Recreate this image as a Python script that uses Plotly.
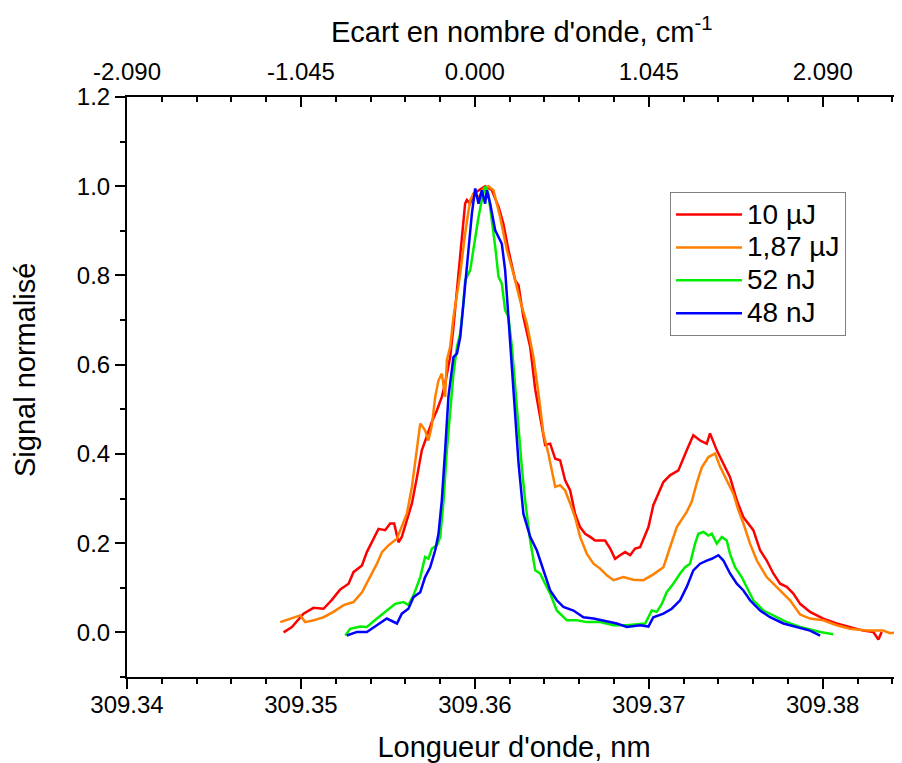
import plotly.graph_objects as go

# ---- data (wavelength in nm, normalised signal) ----
red_x = [309.34900, 309.34948, 309.35015, 309.35072, 309.35130, 309.35178, 309.35226, 309.35274, 309.35302, 309.35351,
         309.35379, 309.35417, 309.35446, 309.35484, 309.35513, 309.35536, 309.35552, 309.35561, 309.35580, 309.35609,
         309.35638, 309.35667, 309.35695, 309.35724, 309.35753, 309.35782, 309.35810, 309.35829, 309.35858, 309.35877,
         309.35906, 309.35925, 309.35944, 309.35954, 309.35973, 309.35992, 309.36021, 309.36059, 309.36098, 309.36136,
         309.36164, 309.36193, 309.36232, 309.36251, 309.36279, 309.36318, 309.36347, 309.36375, 309.36404, 309.36433,
         309.36462, 309.36490, 309.36519, 309.36548, 309.36576, 309.36605, 309.36634, 309.36663, 309.36691, 309.36720,
         309.36749, 309.36778, 309.36806, 309.36835, 309.36864, 309.36893, 309.36921, 309.36950, 309.36969, 309.36998,
         309.37026, 309.37055, 309.37084, 309.37122, 309.37170, 309.37218, 309.37256, 309.37295, 309.37333, 309.37352,
         309.37391, 309.37429, 309.37467, 309.37506, 309.37544, 309.37601, 309.37640, 309.37678, 309.37716, 309.37755,
         309.37793, 309.37831, 309.37870, 309.37927, 309.38003, 309.38080, 309.38157, 309.38233, 309.38291, 309.38320,
         309.38339]
red_y = [0.000, 0.012, 0.042, 0.055, 0.053, 0.073, 0.096, 0.109, 0.135, 0.150,
         0.180, 0.210, 0.232, 0.229, 0.244, 0.244, 0.221, 0.202, 0.214, 0.251,
         0.289, 0.348, 0.408, 0.440, 0.472, 0.498, 0.528, 0.558, 0.617, 0.685,
         0.812, 0.879, 0.961, 0.969, 0.961, 0.983, 0.991, 1.000, 0.991, 0.954,
         0.916, 0.857, 0.789, 0.778, 0.707, 0.640, 0.545, 0.480, 0.420, 0.423,
         0.389, 0.386, 0.341, 0.318, 0.266, 0.236, 0.221, 0.214, 0.206, 0.206,
         0.206, 0.188, 0.165, 0.173, 0.180, 0.173, 0.188, 0.191, 0.210, 0.236,
         0.285, 0.311, 0.337, 0.352, 0.363, 0.408, 0.442, 0.430, 0.423, 0.446,
         0.408, 0.378, 0.348, 0.296, 0.258, 0.229, 0.184, 0.161, 0.132, 0.109,
         0.102, 0.087, 0.064, 0.046, 0.031, 0.020, 0.012, 0.004, 0.001, -0.016,
         0.001]

orange_x = [309.34881, 309.34939, 309.34996, 309.35025, 309.35072, 309.35130, 309.35187, 309.35245, 309.35302, 309.35351,
            309.35398, 309.35437, 309.35466, 309.35503, 309.35552, 309.35580, 309.35609, 309.35638, 309.35667, 309.35686,
            309.35714, 309.35733, 309.35753, 309.35772, 309.35791, 309.35810, 309.35829, 309.35839, 309.35858, 309.35877,
            309.35916, 309.35944, 309.35973, 309.35992, 309.36021, 309.36049, 309.36078, 309.36107, 309.36145, 309.36184,
            309.36222, 309.36260, 309.36299, 309.36337, 309.36366, 309.36394, 309.36423, 309.36462, 309.36490, 309.36519,
            309.36548, 309.36576, 309.36605, 309.36644, 309.36682, 309.36720, 309.36759, 309.36797, 309.36854, 309.36911,
            309.36969, 309.37026, 309.37084, 309.37122, 309.37161, 309.37218, 309.37247, 309.37276, 309.37305, 309.37343,
            309.37381, 309.37410, 309.37448, 309.37486, 309.37515, 309.37544, 309.37582, 309.37621, 309.37678, 309.37755,
            309.37812, 309.37870, 309.37927, 309.38003, 309.38080, 309.38157, 309.38253, 309.38348, 309.38387, 309.38454]
orange_y = [0.023, 0.031, 0.038, 0.023, 0.027, 0.034, 0.046, 0.061, 0.068, 0.090,
            0.124, 0.154, 0.180, 0.195, 0.210, 0.236, 0.266, 0.326, 0.408, 0.468,
            0.453, 0.430, 0.464, 0.528, 0.565, 0.580, 0.528, 0.610, 0.640, 0.707,
            0.804, 0.894, 0.969, 0.983, 0.975, 0.994, 1.000, 0.991, 0.931, 0.857,
            0.804, 0.744, 0.692, 0.617, 0.535, 0.446, 0.400, 0.326, 0.330, 0.318,
            0.289, 0.258, 0.214, 0.176, 0.154, 0.143, 0.128, 0.117, 0.124, 0.118,
            0.117, 0.130, 0.146, 0.190, 0.236, 0.270, 0.293, 0.335, 0.370, 0.393,
            0.401, 0.371, 0.341, 0.311, 0.274, 0.244, 0.199, 0.161, 0.124, 0.094,
            0.072, 0.040, 0.031, 0.027, 0.016, 0.008, 0.004, 0.004, -0.002, 0.001]

green_x = [309.35255, 309.35283, 309.35341, 309.35379, 309.35437, 309.35484, 309.35542, 309.35590, 309.35618, 309.35647,
           309.35686, 309.35714, 309.35733, 309.35753, 309.35782, 309.35801, 309.35820, 309.35839, 309.35858, 309.35877,
           309.35897, 309.35916, 309.35934, 309.35944, 309.35973, 309.36002, 309.36021, 309.36040, 309.36059, 309.36078,
           309.36098, 309.36117, 309.36136, 309.36155, 309.36174, 309.36193, 309.36213, 309.36232, 309.36251, 309.36270,
           309.36289, 309.36318, 309.36347, 309.36375, 309.36404, 309.36433, 309.36471, 309.36529, 309.36586, 309.36644,
           309.36720, 309.36797, 309.36874, 309.36950, 309.36979, 309.37017, 309.37046, 309.37075, 309.37103, 309.37141,
           309.37180, 309.37209, 309.37237, 309.37266, 309.37285, 309.37314, 309.37343, 309.37362, 309.37391, 309.37420,
           309.37448, 309.37467, 309.37496, 309.37534, 309.37563, 309.37601, 309.37659, 309.37716, 309.37793, 309.37870,
           309.37946, 309.37985, 309.38061]
green_y = [-0.007, 0.008, 0.013, 0.012, 0.031, 0.046, 0.064, 0.068, 0.061, 0.083,
           0.124, 0.169, 0.165, 0.188, 0.195, 0.214, 0.296, 0.408, 0.500, 0.580,
           0.640, 0.670, 0.737, 0.789, 0.812, 0.885, 0.931, 0.969, 1.000, 0.983,
           0.924, 0.864, 0.797, 0.782, 0.722, 0.707, 0.640, 0.550, 0.453, 0.370,
           0.296, 0.206, 0.139, 0.132, 0.109, 0.087, 0.049, 0.027, 0.027, 0.023,
           0.023, 0.016, 0.016, 0.018, 0.020, 0.049, 0.046, 0.064, 0.090, 0.109,
           0.132, 0.146, 0.154, 0.199, 0.221, 0.225, 0.217, 0.221, 0.199, 0.214,
           0.206, 0.176, 0.146, 0.124, 0.102, 0.072, 0.049, 0.038, 0.023, 0.012,
           0.004, 0.001, -0.004]

blue_x = [309.35264, 309.35322, 309.35379, 309.35437, 309.35494, 309.35552, 309.35580, 309.35618, 309.35647, 309.35686,
          309.35714, 309.35743, 309.35772, 309.35791, 309.35810, 309.35829, 309.35848, 309.35877, 309.35897, 309.35916,
          309.35944, 309.35963, 309.35983, 309.36002, 309.36021, 309.36040, 309.36059, 309.36069, 309.36088, 309.36117,
          309.36136, 309.36155, 309.36174, 309.36193, 309.36213, 309.36232, 309.36251, 309.36279, 309.36318, 309.36356,
          309.36394, 309.36433, 309.36471, 309.36509, 309.36567, 309.36624, 309.36682, 309.36739, 309.36816, 309.36874,
          309.36950, 309.36998, 309.37026, 309.37084, 309.37132, 309.37180, 309.37218, 309.37256, 309.37295, 309.37333,
          309.37362, 309.37400, 309.37429, 309.37467, 309.37506, 309.37544, 309.37582, 309.37640, 309.37697, 309.37774,
          309.37851, 309.37927, 309.37985]
blue_y = [-0.007, 0.001, 0.001, 0.016, 0.031, 0.020, 0.042, 0.053, 0.079, 0.090,
          0.124, 0.146, 0.184, 0.221, 0.296, 0.408, 0.528, 0.617, 0.625, 0.662,
          0.782, 0.849, 0.939, 0.995, 0.961, 0.991, 0.961, 0.991, 0.961, 0.901,
          0.886, 0.871, 0.812, 0.700, 0.600, 0.468, 0.380, 0.266, 0.214, 0.184,
          0.139, 0.094, 0.072, 0.057, 0.049, 0.034, 0.031, 0.027, 0.020, 0.012,
          0.016, 0.013, 0.034, 0.042, 0.053, 0.072, 0.102, 0.139, 0.154, 0.161,
          0.165, 0.173, 0.161, 0.132, 0.109, 0.094, 0.072, 0.049, 0.034, 0.020,
          0.012, 0.004, -0.007]

series_names = ["10 µJ", "1,87 µJ", "52 nJ", "48 nJ"]
series_colors = ["#ff0000", "#ff8000", "#00ee00", "#0000ff"]

bottom_ticks = [309.34, 309.35, 309.36, 309.37, 309.38]
bottom_labels = ["309.34", "309.35", "309.36", "309.37", "309.38"]
top_labels = ["-2.090", "-1.045", "0.000", "1.045", "2.090"]
y_ticks = [0, 0.2, 0.4, 0.6, 0.8, 1.0, 1.2]
y_labels = ["0.0", "0.2", "0.4", "0.6", "0.8", "1.0", "1.2"]
x_range = [309.34, 309.3845]
y_range = [-0.1, 1.2]

FONT = "Liberation Sans, Arial, sans-serif"

fig = go.Figure()
for xs, ys, name, col in zip([red_x, orange_x, green_x, blue_x],
                             [red_y, orange_y, green_y, blue_y],
                             series_names, series_colors):
    fig.add_trace(go.Scatter(x=xs, y=ys, mode="lines",
                             name='<span style="font-size:28px">' + name + '</span>',
                             line=dict(color=col, width=2.5)))

axis_common = dict(showline=True, linecolor="black", linewidth=2, showgrid=False,
                   zeroline=False, tickcolor="black", tickwidth=2, ticklen=10,
                   automargin=False,
                   tickfont=dict(family=FONT, size=24, color="black"))

# the page body adds an 8 px offset, so margins are set 8 px smaller at left/top
fig.update_layout(
    width=902, height=763,
    margin=dict(l=119, r=9, t=89, b=94),
    paper_bgcolor="white", plot_bgcolor="white",
    font=dict(family=FONT, color="black"),
    xaxis=dict(range=x_range, tickmode="array", tickvals=bottom_ticks, ticktext=bottom_labels,
               ticks="outside", ticklabelstandoff=-5,
               minor=dict(dtick=0.002, tick0=309.34, ticklen=5, tickwidth=2, tickcolor="black", ticks="outside"),
               title=dict(text="Longueur d'onde, nm", font=dict(family=FONT, size=29), standoff=20),
               **axis_common),
    xaxis2=dict(range=x_range, overlaying="x", side="top", matches="x",
                tickmode="array", tickvals=bottom_ticks, ticktext=top_labels,
                ticks="inside", ticklabelstandoff=5,
                minor=dict(dtick=0.002, tick0=309.34, ticklen=5, tickwidth=2, tickcolor="black", ticks="inside"),
                **axis_common),
    yaxis=dict(range=y_range, tickmode="array", tickvals=y_ticks, ticktext=y_labels,
               ticks="outside",
               minor=dict(dtick=0.1, tick0=0, ticklen=5, tickwidth=2, tickcolor="black", ticks="outside"),
               **axis_common),
    legend=dict(x=0.7016, y=0.836, xanchor="left", yanchor="top",
                bgcolor="white", bordercolor="#808080", borderwidth=1,
                font=dict(family=FONT, size=23, color="black"),
                itemwidth=66, tracegroupgap=0),
    showlegend=True,
    annotations=[
        dict(text="Ecart en nombre d'onde, cm<sup>-1</sup>", xref="paper", yref="paper",
             x=0.5095, y=1.115, xanchor="center", yanchor="middle", showarrow=False,
             font=dict(family=FONT, size=29, color="black")),
        dict(text="Signal normalisé", xref="paper", yref="paper", textangle=-90,
             x=-0.132, y=0.529, xanchor="center", yanchor="middle", showarrow=False,
             font=dict(family=FONT, size=29, color="black")),
    ],
)
# invisible trace to activate top axis
fig.add_trace(go.Scatter(x=[309.36], y=[None], xaxis="x2", showlegend=False, hoverinfo="skip"))

fig.write_html("out.html")
